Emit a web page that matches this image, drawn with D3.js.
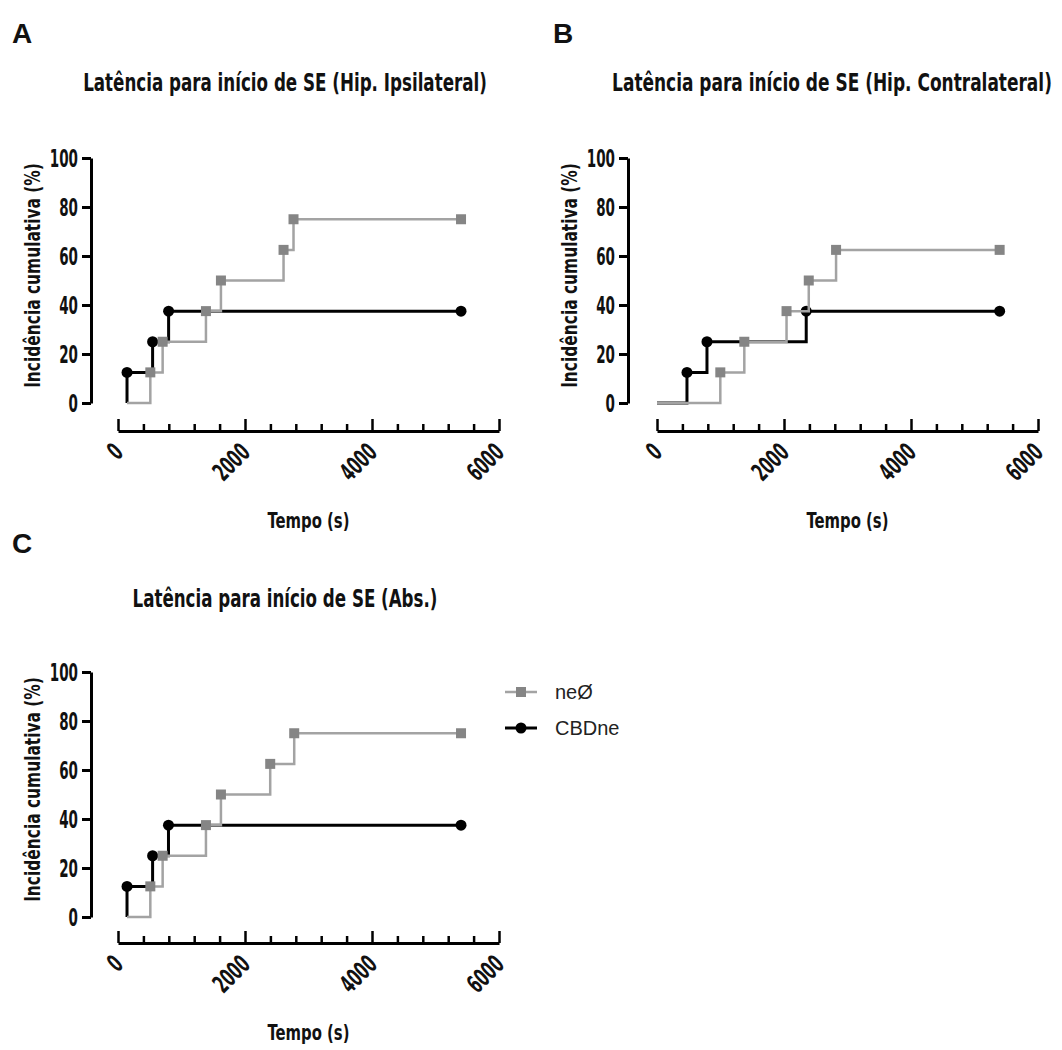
<!DOCTYPE html>
<html>
<head>
<meta charset="utf-8">
<script src="https://cdn.jsdelivr.net/npm/d3@7"></script>
<style>
  html, body { margin: 0; padding: 0; background: #fff; }
  svg { display: block; }
  .cond { font-family: "Liberation Sans Narrow", "DejaVu Sans Condensed", "Roboto Condensed", sans-serif; font-stretch: condensed; }
</style>
</head>
<body>
<svg id="fig" width="1062" height="1050"></svg>
<script>
// Cumulative incidence of SE onset (%), step curves per group
const groups = ["neØ", "CBDne"];
const yTicks = [0, 20, 40, 60, 80, 100];
const xTicksMajor = [0, 2000, 4000, 6000];
const xTicksMinor = [400, 800, 1200, 1600, 2400, 2800, 3200, 3600, 4400, 4800, 5200, 5600];

// Panel A – Hip. Ipsilateral
const timeNeoA = [142, 509, 703, 1385, 1621, 2607, 2764, 5402];
const incNeoA  = [0, 12.5, 25, 37.5, 50, 62.5, 75, 75];
const timeCbdA = [142, 142, 545, 797, 5402];
const incCbdA  = [0, 12.5, 25, 37.5, 37.5];

// Panel B – Hip. Contralateral
const timeNeoB = [0, 997, 1375, 2040, 2390, 2820, 5396];
const incNeoB  = [0, 12.5, 25, 37.5, 50, 62.5, 62.5];
const timeCbdB = [0, 472, 787, 2350, 5396];
const incCbdB  = [0, 12.5, 25, 37.5, 37.5];

// Panel C – Abs.
const timeNeoC = [142, 509, 703, 1385, 1621, 2397, 2775, 5402];
const incNeoC  = [0, 12.5, 25, 37.5, 50, 62.5, 75, 75];
const timeCbdC = [142, 142, 545, 795, 5402];
const incCbdC  = [0, 12.5, 25, 37.5, 37.5];

const titles = [
  "Latência para início de SE (Hip. Ipsilateral)",
  "Latência para início de SE (Hip. Contralateral)",
  "Latência para início de SE (Abs.)"
];
const letters = ["A", "B", "C"];
const yLabel = "Incidência cumulativa (%)";
const xLabel = "Tempo (s)";

const zip = (t, v) => t.map((d, i) => ({ t: d, v: v[i] }));
const data = [
  { neo: zip(timeNeoA, incNeoA), cbd: zip(timeCbdA, incCbdA) },
  { neo: zip(timeNeoB, incNeoB), cbd: zip(timeCbdB, incCbdB) },
  { neo: zip(timeNeoC, incNeoC), cbd: zip(timeCbdC, incCbdC) }
];

// layout of each panel
const panels = [
  { x0: 118, y0: 158, axisX: 91,  axisY: 431, title: { x: 285, y: 91, w: 404 }, letter: { x: 12, y: 43 } },
  { x0: 657, y0: 158, axisX: 628, axisY: 431, title: { x: 832, y: 91, w: 440 }, letter: { x: 553, y: 43 } },
  { x0: 118, y0: 672, axisX: 91,  axisY: 943, title: { x: 285, y: 607, w: 305 }, letter: { x: 12, y: 553 } }
];
const plotW = 381, plotH = 245;

const GREY_LINE = "#a3a3a3", GREY_MARK = "#858585", BLACK = "#000";

const svg = d3.select("#fig");

// squeeze a text horizontally to a given width, keeping its anchor point
function fitText(sel, tx, ty, width, rot) {
  sel.each(function (d) {
    const w = this.getComputedTextLength();
    const target = typeof width === "function" ? width(d) : width;
    const sx = Math.min(1, target / w);
    d3.select(this).attr("x", 0).attr("y", 0)
      .attr("transform", `translate(${tx},${ty})${rot ? ` rotate(${rot})` : ""} scale(${sx},1)`);
  });
}

panels.forEach((p, i) => {
  const g = svg.append("g");
  const x = d3.scaleLinear().domain([0, 6000]).range([p.x0, p.x0 + plotW]);
  const y = d3.scaleLinear().domain([0, 100]).range([p.y0 + plotH, p.y0]);

  // panel letter
  g.append("text").attr("x", p.letter.x).attr("y", p.letter.y)
    .attr("font-family", "Liberation Sans, Arial, sans-serif").attr("font-weight", "bold")
    .attr("font-size", 28).attr("fill", "#111").text(letters[i]);

  // title
  g.append("text").attr("class", "cond").attr("text-anchor", "middle")
    .attr("font-weight", "bold").attr("font-size", 25).attr("fill", "#111")
    .text(titles[i])
    .call(fitText, p.title.x, p.title.y, p.title.w);

  // y axis
  const ya = g.append("g").attr("transform", `translate(${p.axisX},0)`)
    .call(d3.axisLeft(y).tickValues(yTicks).tickSize(9).tickSizeOuter(0).tickPadding(4));
  ya.select(".domain").attr("stroke", BLACK).attr("stroke-width", 3);
  ya.selectAll(".tick line").attr("stroke", BLACK).attr("stroke-width", 3);
  ya.selectAll(".tick text").attr("class", "cond").attr("font-size", 25)
    .attr("font-weight", "bold").attr("fill", "#111").attr("font-family", null)
    .call(fitText, -13, 0, d => String(d).length * 9.4);

  // y axis title
  g.append("text").attr("class", "cond").attr("text-anchor", "middle")
    .attr("font-weight", "bold").attr("font-size", 21).attr("fill", "#111")
    .text(yLabel)
    .call(fitText, p.axisX - 51, p.y0 + plotH / 2 - 5, 225, -90);

  // x axis: major ticks with labels, minor ticks without
  const xa = g.append("g").attr("transform", `translate(0,${p.axisY})`)
    .call(d3.axisBottom(x).tickValues(xTicksMajor).tickFormat(d3.format("d"))
      .tickSize(-12).tickSizeOuter(0).tickPadding(0));
  xa.select(".domain").attr("stroke", BLACK).attr("stroke-width", 3);
  xa.selectAll(".tick line").attr("stroke", BLACK).attr("stroke-width", 2.5);
  xa.selectAll(".tick text").attr("class", "cond").attr("font-family", null)
    .attr("font-size", 25).attr("font-weight", "bold").attr("fill", "#111")
    .attr("dy", null).attr("text-anchor", "end")
    .call(fitText, 6, 23, d => String(d).length * 10, -45);
  const xm = g.append("g").attr("transform", `translate(0,${p.axisY})`)
    .call(d3.axisBottom(x).tickValues(xTicksMinor).tickSize(-7).tickFormat(""));
  xm.select(".domain").remove();
  xm.selectAll(".tick line").attr("stroke", BLACK).attr("stroke-width", 2.5);

  // x axis title
  g.append("text").attr("class", "cond").attr("text-anchor", "middle")
    .attr("font-weight", "bold").attr("font-size", 22).attr("fill", "#111")
    .text(xLabel)
    .call(fitText, p.x0 + plotW / 2, p.axisY + 97, 82);

  const step = d3.line().x(d => x(d.t)).y(d => y(d.v)).curve(d3.curveStepAfter);

  // CBDne (black, circles) drawn first, neØ (grey, squares) on top
  g.append("path").datum(data[i].cbd).attr("d", step)
    .attr("fill", "none").attr("stroke", BLACK).attr("stroke-width", 3);
  g.selectAll("circle.cbd").data(data[i].cbd.slice(1)).join("circle").attr("class", "cbd")
    .attr("cx", d => x(d.t)).attr("cy", d => y(d.v)).attr("r", 5.5).attr("fill", BLACK);

  g.append("path").datum(data[i].neo).attr("d", step)
    .attr("fill", "none").attr("stroke", GREY_LINE).attr("stroke-width", 2.5);
  g.selectAll("rect.neo").data(data[i].neo.slice(1)).join("rect").attr("class", "neo")
    .attr("x", d => x(d.t) - 5).attr("y", d => y(d.v) - 5)
    .attr("width", 10).attr("height", 10).attr("fill", GREY_MARK);
});

// legend
const leg = svg.append("g");
const legRows = [
  { name: groups[0], y: 692, line: GREY_LINE, mark: GREY_MARK, shape: "square" },
  { name: groups[1], y: 728, line: BLACK, mark: BLACK, shape: "circle" }
];
legRows.forEach(r => {
  leg.append("line").attr("x1", 505).attr("x2", 537).attr("y1", r.y).attr("y2", r.y)
    .attr("stroke", r.line).attr("stroke-width", r.shape === "circle" ? 3 : 2.5);
  if (r.shape === "circle") {
    leg.append("circle").attr("cx", 521).attr("cy", r.y).attr("r", 5.5).attr("fill", r.mark);
  } else {
    leg.append("rect").attr("x", 516).attr("y", r.y - 5).attr("width", 10).attr("height", 10).attr("fill", r.mark);
  }
  leg.append("text").attr("x", 555).attr("y", r.y + 7)
    .attr("font-family", "Liberation Sans, Arial, sans-serif").attr("font-size", 20)
    .attr("fill", "#222").text(r.name);
});
</script>
</body>
</html>
